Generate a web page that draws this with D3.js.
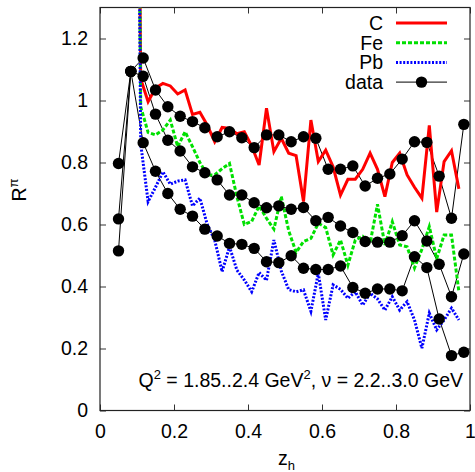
<!DOCTYPE html>
<html>
<head>
<meta charset="utf-8">
<script src="https://d3js.org/d3.v7.min.js"></script>
<style>
	body { margin: 0; background: #fff; }
	text { font-family: "Liberation Sans", Arial, sans-serif; fill: #000; }
</style>
</head>
<body>
<svg id="chart" width="475" height="472"></svg>
<script>
// model curves, x = 0.09, 0.11, ..., 0.97
var modelX = d3.range(45).map(function (i) { return +(0.09 + 0.02 * i).toFixed(2); });
var modelC = [4.0, 1.07, 0.996, 1.04, 1.055, 1.047, 1.021, 1.034, 0.955, 0.962, 0.92, 0.867, 0.913, 0.91, 0.893,
	0.899, 0.853, 0.792, 0.975, 0.835, 0.878, 0.83, 0.822, 0.674, 0.937, 0.803, 0.84, 0.786, 0.695, 0.746,
	0.746, 0.778, 0.83, 0.778, 0.69, 0.80, 0.83, 0.76, 0.72, 0.685, 0.92, 0.64, 0.803, 0.838, 0.715];
var modelFe = [4.0, 0.98, 0.897, 0.889, 0.905, 0.937, 0.851, 0.899, 0.851, 0.80, 0.76, 0.76, 0.78, 0.797, 0.69,
	0.60, 0.61, 0.66, 0.62, 0.585, 0.69, 0.58, 0.51, 0.545, 0.555, 0.604, 0.59, 0.502, 0.55, 0.469,
	0.55, 0.562, 0.54, 0.665, 0.534, 0.609, 0.534, 0.528, 0.46, 0.52, 0.593, 0.49, 0.566, 0.566, 0.383];
var modelPb = [4.0, 0.86, 0.674, 0.72, 0.77, 0.73, 0.74, 0.744, 0.66, 0.685, 0.60, 0.55, 0.448, 0.528, 0.453,
	0.421, 0.383, 0.445, 0.42, 0.55, 0.45, 0.39, 0.383, 0.389, 0.32, 0.443, 0.292, 0.405, 0.391, 0.362,
	0.383, 0.34, 0.378, 0.36, 0.324, 0.367, 0.324, 0.351, 0.292, 0.201, 0.314, 0.26, 0.292, 0.33, 0.292];

// data points, x = 0.05, 0.0833, ..., 0.9833 (bins of 1/30)
var dataX = d3.range(1, 30).map(function (k) { return (k + 0.5) / 30; });
var dataC = [0.797, 1.094, 1.137, 1.034, 0.98, 0.949, 0.932, 0.912, 0.883, 0.899, 0.88, 0.848, 0.889, 0.889,
	0.867, 0.883, 0.878, 0.778, 0.778, 0.789, 0.724, 0.749, 0.763, 0.811, 0.867, 0.865, 0.756, 0.62, 0.923];
var dataFe = [0.618, 1.094, 1.078, 0.956, 0.872, 0.837, 0.786, 0.767, 0.744, 0.695, 0.695, 0.670, 0.654, 0.660,
	0.649, 0.655, 0.612, 0.623, 0.595, 0.574, 0.545, 0.543, 0.543, 0.564, 0.612, 0.547, 0.472, 0.367, 0.505];
var dataPb = [0.515, 1.094, 0.864, 0.772, 0.70, 0.649, 0.627, 0.585, 0.563, 0.539, 0.536, 0.523, 0.48, 0.477,
	0.499, 0.459, 0.455, 0.455, 0.466, 0.397, 0.378, 0.392, 0.392, 0.386, 0.496, 0.461, 0.295, 0.177, 0.188];

var xTicks = [0, 0.2, 0.4, 0.6, 0.8, 1];
var yTicks = [0, 0.2, 0.4, 0.6, 0.8, 1, 1.2];
var legendNames = ["C", "Fe", "Pb", "data"];

var pL = 100, pR = 470, pT = 7.5, pB = 410.5;
var fs = "19.5px";
var svg = d3.select("#chart");

var x = d3.scaleLinear().domain([0, 1]).range([pL, pR]);
var y = d3.scaleLinear().domain([0, 1.3]).range([pB, pT]);

svg.append("clipPath").attr("id", "plotclip")
	.append("rect").attr("x", pL).attr("y", pT)
	.attr("width", pR - pL).attr("height", pB - pT);

var fmt = function (d) { return d3.format("~g")(d); };

// axes with inward ticks, mirrored on top and right
svg.append("g").attr("transform", "translate(0," + pB + ")")
	.call(d3.axisBottom(x).tickValues(xTicks).tickSize(-6).tickPadding(14).tickFormat(fmt))
	.call(function (g) { g.select(".domain").remove(); });
svg.append("g").attr("transform", "translate(0," + pT + ")")
	.call(d3.axisTop(x).tickValues(xTicks).tickSize(-6).tickFormat(""))
	.call(function (g) { g.select(".domain").remove(); });
svg.append("g").attr("transform", "translate(" + pL + ",0)")
	.call(d3.axisLeft(y).tickValues(yTicks).tickSize(-6).tickPadding(12).tickFormat(fmt))
	.call(function (g) { g.select(".domain").remove(); });
svg.append("g").attr("transform", "translate(" + pR + ",0)")
	.call(d3.axisRight(y).tickValues(yTicks).tickSize(-6).tickFormat(""))
	.call(function (g) { g.select(".domain").remove(); });
svg.selectAll(".tick line").attr("stroke", "#333");
svg.selectAll(".tick text").style("font-size", fs).style("font-family", "Liberation Sans, Arial, sans-serif");

svg.append("rect").attr("x", pL).attr("y", pT)
	.attr("width", pR - pL).attr("height", pB - pT)
	.attr("fill", "none").attr("stroke", "#222").attr("stroke-width", 1.2);

// axis titles
var xt = svg.append("text").attr("x", 278).attr("y", 465).style("font-size", fs);
xt.append("tspan").text("z");
xt.append("tspan").attr("dy", 5).style("font-size", "13px").text("h");

var yt = svg.append("text").attr("transform", "translate(26,190) rotate(-90)")
	.attr("text-anchor", "middle").style("font-size", fs);
yt.append("tspan").text("R");
yt.append("tspan").attr("dy", -8).style("font-size", "13px").text("π");

// annotation
var note = svg.append("text").attr("x", 463).attr("y", 387).attr("text-anchor", "end").style("font-size", fs);
note.append("tspan").text("Q");
note.append("tspan").attr("dy", -8).style("font-size", "13px").text("2");
note.append("tspan").attr("dy", 8).text(" = 1.85..2.4 GeV");
note.append("tspan").attr("dy", -8).style("font-size", "13px").text("2");
note.append("tspan").attr("dy", 8).text(", ν = 2.2..3.0 GeV");

var line = d3.line().x(function (d) { return x(d[0]); }).y(function (d) { return y(d[1]); });
var plot = svg.append("g").attr("clip-path", "url(#plotclip)");

var models = [
	{ v: modelC, color: "#ff0000", dash: null },
	{ v: modelFe, color: "#00e000", dash: "4,2" },
	{ v: modelPb, color: "#0000ff", dash: "2,1.6" }
];

// data lines
[dataC, dataFe, dataPb].forEach(function (s) {
	plot.append("path").datum(d3.zip(dataX, s)).attr("d", line)
		.attr("fill", "none").attr("stroke", "#000").attr("stroke-width", 1);
});

models.forEach(function (m) {
	plot.append("path").datum(d3.zip(modelX, m.v)).attr("d", line)
		.attr("fill", "none").attr("stroke", m.color).attr("stroke-width", 3)
		.attr("stroke-dasharray", m.dash);
});

[dataC, dataFe, dataPb].forEach(function (s) {
	svg.append("g").selectAll("circle")
		.data(d3.zip(dataX, s).filter(function (d) { return d[1] <= 1.3; }))
		.enter().append("circle")
		.attr("cx", function (d) { return x(d[0]); })
		.attr("cy", function (d) { return y(d[1]); })
		.attr("r", 5.7).attr("fill", "#000");
});

// legend
var leg = svg.append("g");
legendNames.forEach(function (name, i) {
	var ly = 23 + i * 19.7;
	leg.append("text").attr("x", 383).attr("y", ly + 7).attr("text-anchor", "end")
		.style("font-size", fs).text(name);
	var l = leg.append("line").attr("x1", 396).attr("x2", 447).attr("y1", ly).attr("y2", ly);
	if (i < 3) {
		l.attr("stroke", models[i].color).attr("stroke-width", 3).attr("stroke-dasharray", models[i].dash);
	} else {
		l.attr("stroke", "#000").attr("stroke-width", 1);
		leg.append("circle").attr("cx", 421.5).attr("cy", ly).attr("r", 5.7).attr("fill", "#000");
	}
});
</script>
</body>
</html>
